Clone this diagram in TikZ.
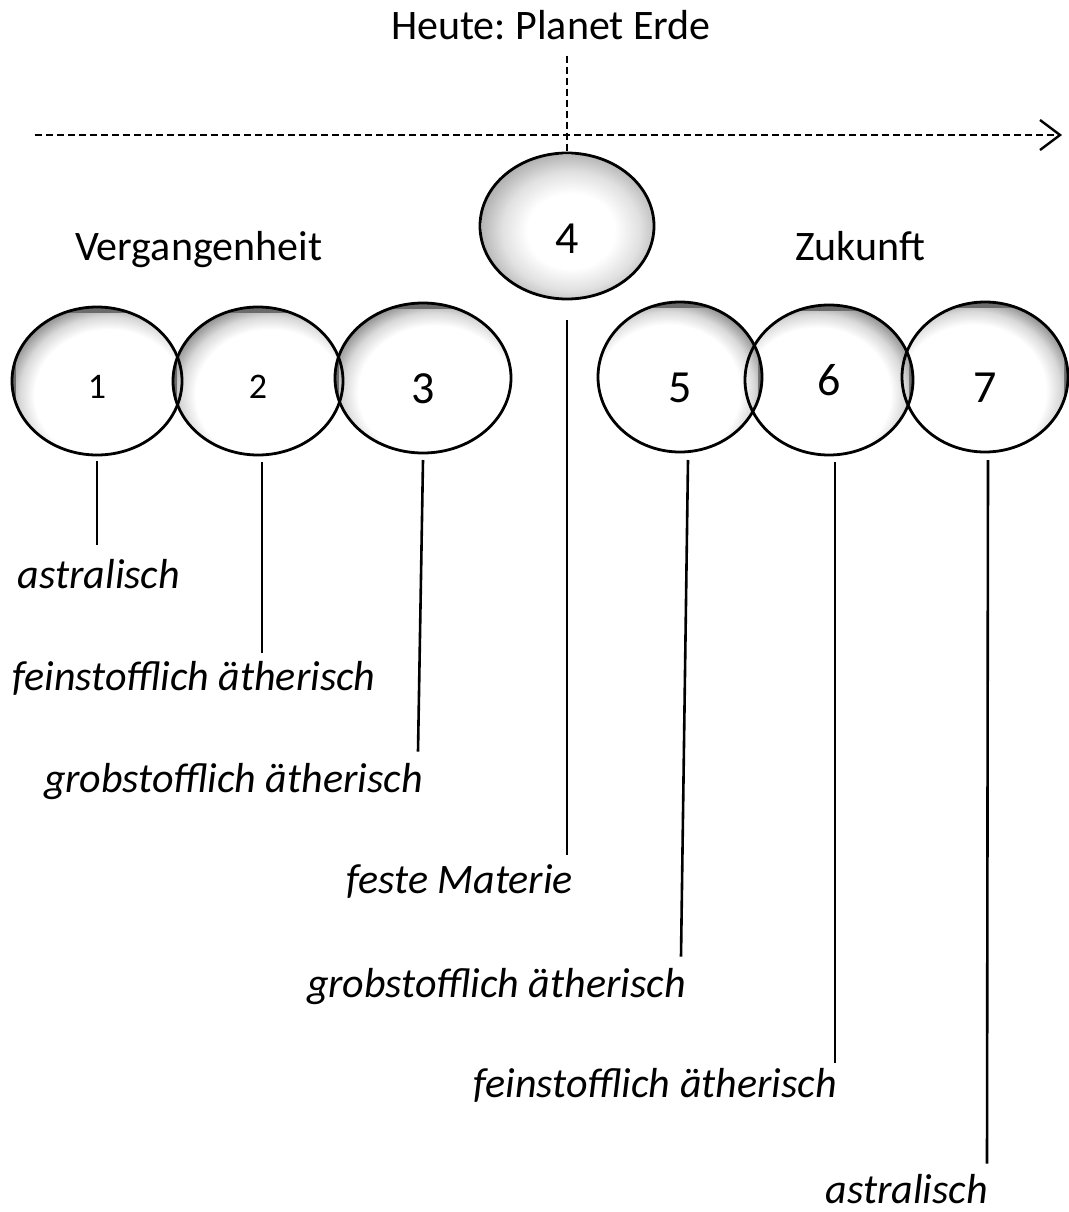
\documentclass[tikz,border=0pt]{standalone}
\usepackage{fontspec}
\setmainfont{Carlito}
\usetikzlibrary{shapes.geometric,arrows.meta,calc}
\pgfdeclareradialshading{orbshade}{\pgfpoint{0bp}{0bp}}{color(0bp)=(white); color(20bp)=(white); color(24bp)=(black!15); color(30bp)=(black!58); color(50bp)=(black!58)}
\pgfdeclareradialshading{midshade}{\pgfpoint{0bp}{0bp}}{color(0bp)=(white); color(12bp)=(white); color(19bp)=(black!12); color(25bp)=(black!30); color(50bp)=(black!30)}
\begin{document}
\frenchspacing
\begin{tikzpicture}[x=1pt,y=-1pt,
  orb/.style={ellipse, inner sep=0pt, outer sep=0pt, text depth=0pt},
  smalldigit/.style={font=\fontsize{36}{36}\selectfont, text height=34pt},
  bigdigit/.style={font=\fontsize{46}{46}\selectfont, text height=50pt},
  orbleft/.style={orb, path picture={
     \fill[black!58] (path picture bounding box.south west) rectangle (path picture bounding box.north east);
     \shade[shading=orbshade] ($(path picture bounding box.south west)+(4,22)$) rectangle ($(path picture bounding box.north east)+(20,6)$);}},
  orbright/.style={orb, path picture={
     \fill[black!58] (path picture bounding box.south west) rectangle (path picture bounding box.north east);
     \shade[shading=orbshade] ($(path picture bounding box.south west)+(-20,22)$) rectangle ($(path picture bounding box.north east)+(-4,6)$);}},
  orbmid/.style={orb, path picture={
     \shade[shading=midshade] ($(path picture bounding box.south west)+(2,10)$) rectangle ($(path picture bounding box.north east)+(8,2)$);}},
  outline/.style={line width=2.8pt, black},
  conn/.style={line width=2.6pt, black},
  dashline/.style={line width=2.2pt, black, dash pattern=on 7pt off 4pt},
  upright/.style={inner sep=0pt, font=\fontsize{42}{42}\selectfont},
  lbl/.style={inner sep=0pt, font=\itshape\fontsize{42}{42}\selectfont}
]
\path[use as bounding box] (0,0) rectangle (1068,1212);

% title and time axis
\node[upright, anchor=base] (title) at (551,40) {Heute: Planet Erde};
\coordinate (axL) at (35,135);
\coordinate (axR) at (1062,135);
\draw[dashline, -{Straight Barb[length=20pt,width=30pt,line width=2.4pt]}] (axL) -- (axR);

\node[upright, anchor=base west] (past) at (75,260) {Vergangenheit};
\node[upright, anchor=base west] (future) at (795,260) {Zukunft};

% planets: fills
\node[orbleft, smalldigit, minimum width=170pt, minimum height=148pt] (e1) at (97,381) {1};
\node[orbleft, smalldigit, minimum width=170pt, minimum height=148pt] (e2) at (258,381) {2};
\node[orbleft, bigdigit, minimum width=176pt, minimum height=150pt] (e3) at (423,378) {3};
\node[orbright, bigdigit, minimum width=166pt, minimum height=150pt] (e7) at (985,377) {7};
\node[orbright, bigdigit, text height=30pt, minimum width=168pt, minimum height=150pt] (e6) at (829,380) {6};
\node[orbright, bigdigit, minimum width=164pt, minimum height=150pt] (e5) at (680,377) {5};
\node[orbmid, bigdigit, text height=54pt, minimum width=174pt, minimum height=146pt] (e4) at (567,226) {4};

% planets: outlines
\draw[outline] (e1.center) ellipse [x radius=85, y radius=74];
\draw[outline] (e2.center) ellipse [x radius=85, y radius=74];
\draw[outline] (e3.center) ellipse [x radius=88, y radius=75];
\draw[outline] (e5.center) ellipse [x radius=82, y radius=75];
\draw[outline] (e6.center) ellipse [x radius=84, y radius=75];
\draw[outline] (e7.center) ellipse [x radius=83, y radius=75];
\draw[outline] (e4.center) ellipse [x radius=87, y radius=73];

\draw[dashline] ([yshift=-15pt]e4.north |- title.south) -- (e4.north);

% labels
\node[lbl, anchor=base] (l1) at (99,588) {astralisch};
\node[lbl, anchor=base west] (l2) at (12,690) {feinstofflich ätherisch};
\node[lbl, anchor=base east] (l3) at (423,792) {grobstofflich ätherisch};
\node[lbl, anchor=base east] (l4) at (573,893) {feste Materie};
\node[lbl, anchor=base east] (l5) at (686,997) {grobstofflich ätherisch};
\node[lbl, anchor=base east] (l6) at (837,1097) {feinstofflich ätherisch};
\node[lbl, anchor=base east] (l7) at (988,1203) {astralisch};

% connectors
\draw[conn] ([yshift=-6pt]e1.south) -- ([yshift=14pt]e1.south |- l1.north);
\draw[conn] ([yshift=-7pt,xshift=4pt]e2.south) -- ([yshift=8pt,xshift=4pt]e2.south |- l2.north);
\draw[conn] ([yshift=-7pt]e3.south) -- ([xshift=-5pt,yshift=11pt]l3.north east);
\draw[conn] ([yshift=-21pt]e4.south) -- ([yshift=9pt]e4.south |- l4.north);
\draw[conn] ([yshift=-8pt,xshift=8pt]e5.south) -- ([xshift=-5pt,yshift=11pt]l5.north east);
\draw[conn] ([yshift=-7pt,xshift=6pt]e6.south) -- ([yshift=5pt,xshift=6pt]e6.south |- l6.north);
\draw[conn] ([yshift=-8pt,xshift=3pt]e7.south) -- ([yshift=10pt,xshift=-1pt]l7.north east);
\end{tikzpicture}
\end{document}
